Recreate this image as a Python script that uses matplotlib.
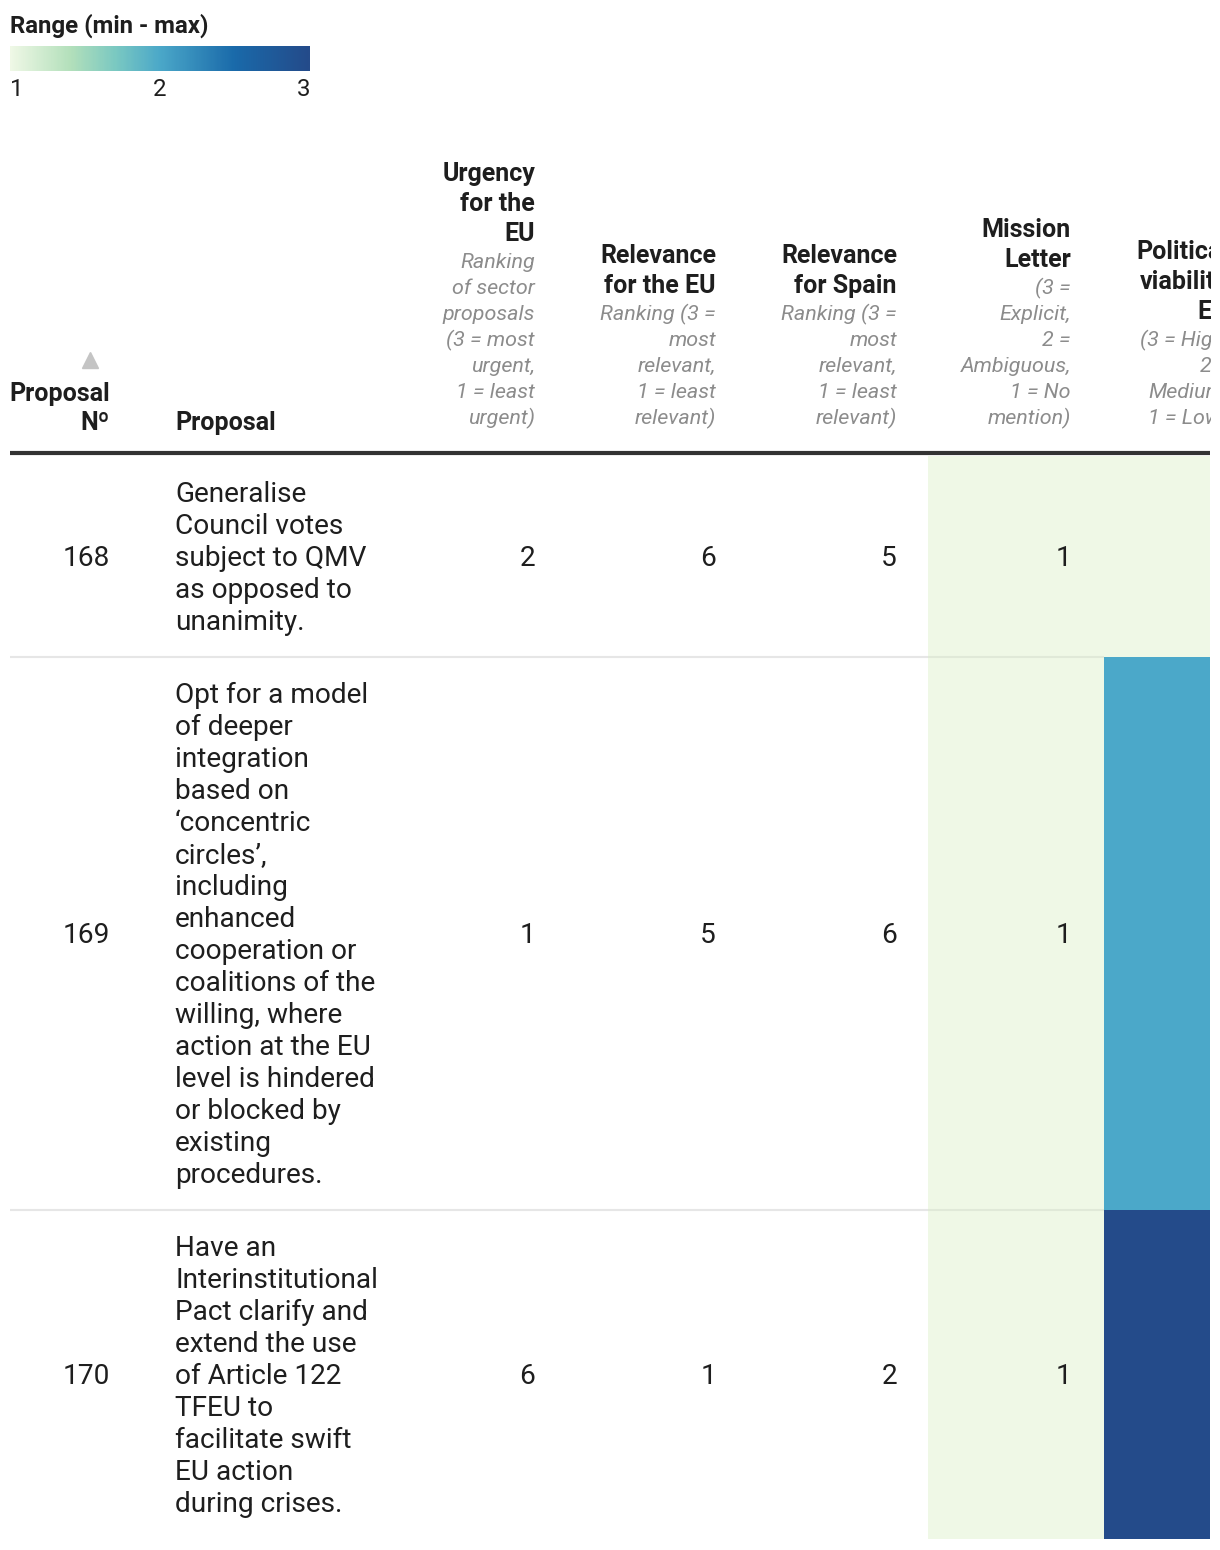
import matplotlib
matplotlib.use("Agg")
import matplotlib.pyplot as plt
import numpy as np
from matplotlib.colors import LinearSegmentedColormap, Normalize
from matplotlib.patches import Rectangle
from matplotlib.transforms import Bbox, TransformedBbox

plt.rcParams['font.family'] = ['Roboto', 'DejaVu Sans']

# ---------------- data ----------------
proposal_no = [168, 169, 170]
proposal_lines = [
    ["Generalise", "Council votes", "subject to QMV", "as opposed to", "unanimity."],
    ["Opt for a model", "of deeper", "integration", "based on", "\u2018concentric",
     "circles\u2019,", "including", "enhanced", "cooperation or", "coalitions of the",
     "willing, where", "action at the EU", "level is hindered", "or blocked by",
     "existing", "procedures."],
    ["Have an", "Interinstitutional", "Pact clarify and", "extend the use",
     "of Article 122", "TFEU to", "facilitate swift", "EU action", "during crises."],
]
urgency_eu = [2, 1, 6]
relevance_eu = [6, 5, 1]
relevance_spain = [5, 6, 2]
mission_letter = [1, 1, 1]
political_viability = [1, 2, 3]

col_titles = [
    ["Urgency", "for the", "EU"],
    ["Relevance", "for the EU"],
    ["Relevance", "for Spain"],
    ["Mission", "Letter"],
    ["Political", "viability", "EU"],
]
col_subtitles = [
    ["Ranking", "of sector", "proposals", "(3 = most", "urgent,", "1 = least", "urgent)"],
    ["Ranking (3 =", "most", "relevant,", "1 = least", "relevant)"],
    ["Ranking (3 =", "most", "relevant,", "1 = least", "relevant)"],
    ["(3 =", "Explicit,", "2 =", "Ambiguous,", "1 = No", "mention)"],
    ["(3 = High,", "2 =", "Medium,", "1 = Low)"],
]
legend_title = "Range (min - max)"
legend_ticks = [1, 2, 3]

# ---------------- style ----------------
cmap = LinearSegmentedColormap.from_list(
    "range", [(0.0, "#eff8e6"), (0.2, "#b3e0bb"), (0.35, "#7bc9c2"),
              (0.5, "#4ba8c9"), (0.75, "#1a6aaa"), (1.0, "#244b8a")])
norm = Normalize(1, 3)

W, H = 1220, 1550
fig = plt.figure(figsize=(W / 100, H / 100), dpi=100)
ax = fig.add_axes([0, 0, 1, 1])
ax.set_xlim(0, W)
ax.set_ylim(H, 0)
ax.axis("off")

clip_box = TransformedBbox(Bbox([[0, 0], [1211, H]]), ax.transData)

def pt(px):
    return px * 72 / 100

BODY = pt(28)
HEAD = pt(25)
SUB = pt(21.5)
LEG = pt(24)
dark = "#1e1e1e"
grey = "#8c8c8c"
DY = 2

# ---------------- legend ----------------
ax.text(10, 24 + DY, legend_title, fontsize=LEG, fontweight="bold", color=dark,
        va="center", ha="left")
grad = np.linspace(1, 3, 300).reshape(1, -1)
ax.imshow(grad, cmap=cmap, norm=norm, extent=[10, 310, 71, 46], aspect="auto")
lx = {1: (10, "left"), 2: (160, "center"), 3: (310, "right")}
for t in legend_ticks:
    x, ha = lx[t]
    ax.text(x, 88 + DY, str(t), fontsize=LEG, color=dark, ha=ha, va="center")

# ---------------- header ----------------
col_right = [535, 716, 897, 1071, 1228]
bottom_sub = 416
sub_step = 26
head_step = 30
for cr, tl, sl in zip(col_right, col_titles, col_subtitles):
    ys = [bottom_sub - sub_step * (len(sl) - 1 - i) for i in range(len(sl))]
    for y, s in zip(ys, sl):
        t = ax.text(cr, y + DY, s, fontsize=SUB, style="italic", color=grey,
                    ha="right", va="center")
        t.set_clip_on(True)
        t.set_clip_box(clip_box)
    top_sub = ys[0]
    for i, s in enumerate(tl):
        y = top_sub - 28 - head_step * (len(tl) - 1 - i)
        t = ax.text(cr, y + DY, s, fontsize=HEAD, fontweight="bold", color=dark,
                    ha="right", va="center")
        t.set_clip_on(True)
        t.set_clip_box(clip_box)

ax.text(110, 392 + DY, "Proposal", fontsize=HEAD, fontweight="bold", color=dark,
        ha="right", va="center")
ax.text(110, 421 + DY, "N\u00ba", fontsize=HEAD, fontweight="bold", color=dark,
        ha="right", va="center")
ax.plot([90], [360], marker="^", markersize=11, color="#c4c4c4", linestyle="none")
ax.text(175, 421 + DY, "Proposal", fontsize=HEAD, fontweight="bold", color=dark,
        ha="left", va="center")

# ---------------- body ----------------
line_h = 32
pad = 41
y0 = 456
ml_x0, ml_x1 = 928, 1104
pv_x0, pv_x1 = 1104, 1210

row_tops = []
y = y0
for lines in proposal_lines:
    row_tops.append(y)
    y += len(lines) * line_h + pad

for i, lines in enumerate(proposal_lines):
    top = row_tops[i]
    h = len(lines) * line_h + pad
    bot = top + h
    cy = top + h / 2
    ax.add_patch(Rectangle((ml_x0, top), ml_x1 - ml_x0, h,
                           facecolor=cmap(norm(mission_letter[i])), edgecolor="none", zorder=1))
    ax.add_patch(Rectangle((pv_x0, top), pv_x1 - pv_x0, h,
                           facecolor=cmap(norm(political_viability[i])), edgecolor="none", zorder=1))
    if i < len(proposal_lines) - 1:
        ax.plot([10, ml_x0], [bot, bot], color="#e6e6e6", lw=1.5, zorder=2,
                solid_capstyle="butt")
        ax.plot([ml_x0, ml_x1], [bot, bot], color="#000000", alpha=0.06, lw=1.5,
                zorder=2, solid_capstyle="butt")
    ax.text(110, cy + DY, str(proposal_no[i]), fontsize=BODY, color=dark,
            ha="right", va="center", zorder=3)
    n = len(lines)
    for j, s in enumerate(lines):
        ly = cy + (j - (n - 1) / 2) * line_h
        ax.text(175, ly + DY, s, fontsize=BODY, color=dark, ha="left", va="center", zorder=3)
    for cr, val in zip(col_right[:4], [urgency_eu[i], relevance_eu[i],
                                       relevance_spain[i], mission_letter[i]]):
        ax.text(cr, cy + DY, str(val), fontsize=BODY, color=dark,
                ha="right", va="center", zorder=3)

ax.plot([10, 1210], [453, 453], color="#333333", lw=3, solid_capstyle="butt", zorder=4)

fig.savefig("out.png", dpi=100, facecolor="white")
